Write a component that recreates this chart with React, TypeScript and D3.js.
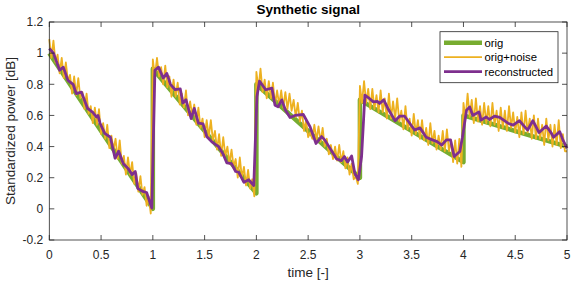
import * as d3 from "d3";

// axis ticks
const xTicks = [0, 0.5, 1, 1.5, 2, 2.5, 3, 3.5, 4, 4.5, 5];
const yTicks = [-0.2, 0, 0.2, 0.4, 0.6, 0.8, 1, 1.2];

// original sawtooth, breakpoints [time, value]
const origPoints: [number, number][] = [
  [0, 1], [1, 0], [1, 0.9], [2, 0.1], [2, 0.8], [3, 0.2], [3, 0.7], [4, 0.3], [4, 0.6], [5, 0.4],
];

// orig+noise, sampled every 0.02 inside each unit interval
const noisySeg1 = [
  1.09, 0.97, 1.08, 0.94, 0.99, 0.87, 0.97, 0.84, 0.94, 0.82,
  0.86, 0.74, 0.85, 0.73, 0.84, 0.71, 0.75, 0.64, 0.74, 0.61,
  0.66, 0.55, 0.65, 0.54, 0.64, 0.48, 0.55, 0.45, 0.54, 0.39,
  0.47, 0.38, 0.45, 0.32, 0.44, 0.29, 0.34, 0.22, 0.33, 0.22,
  0.3, 0.16, 0.23, 0.11, 0.21, 0.09, 0.14, 0.02, 0.08, -0.03,
];
const noisySeg2 = [
  0.96, 0.85, 0.97, 0.85, 0.91, 0.8, 0.92, 0.78, 0.85, 0.72,
  0.83, 0.72, 0.81, 0.67, 0.74, 0.65, 0.76, 0.6, 0.69, 0.6,
  0.67, 0.54, 0.65, 0.52, 0.58, 0.46, 0.57, 0.46, 0.57, 0.44,
  0.5, 0.38, 0.48, 0.34, 0.46, 0.34, 0.4, 0.29, 0.38, 0.27,
  0.32, 0.2, 0.33, 0.2, 0.27, 0.15, 0.25, 0.13, 0.19, 0.08,
];
const noisySeg3 = [
  0.88, 0.77, 0.9, 0.75, 0.83, 0.71, 0.82, 0.71, 0.81, 0.67,
  0.76, 0.67, 0.76, 0.65, 0.75, 0.64, 0.74, 0.63, 0.7, 0.59,
  0.68, 0.56, 0.63, 0.5, 0.57, 0.46, 0.49, 0.45, 0.54, 0.44,
  0.53, 0.43, 0.52, 0.4, 0.45, 0.35, 0.41, 0.32, 0.4, 0.31,
  0.41, 0.3, 0.37, 0.26, 0.33, 0.22, 0.29, 0.19, 0.21, 0.16,
];
const noisySeg4 = [
  0.79, 0.68, 0.82, 0.68, 0.77, 0.64, 0.77, 0.64, 0.73, 0.62,
  0.76, 0.62, 0.71, 0.58, 0.74, 0.58, 0.69, 0.58, 0.71, 0.56,
  0.63, 0.51, 0.66, 0.51, 0.58, 0.47, 0.61, 0.48, 0.57, 0.45,
  0.57, 0.44, 0.52, 0.41, 0.55, 0.42, 0.5, 0.38, 0.47, 0.38,
  0.5, 0.37, 0.51, 0.37, 0.44, 0.3, 0.44, 0.29, 0.45, 0.27,
];
const noisySeg5 = [
  0.68, 0.58, 0.74, 0.59, 0.7, 0.55, 0.71, 0.56, 0.66, 0.54,
  0.68, 0.55, 0.66, 0.53, 0.68, 0.54, 0.63, 0.5, 0.65, 0.52,
  0.63, 0.5, 0.66, 0.52, 0.62, 0.49, 0.59, 0.46, 0.62, 0.48,
  0.63, 0.49, 0.58, 0.45, 0.6, 0.45, 0.58, 0.45, 0.54, 0.41,
  0.58, 0.44, 0.54, 0.4, 0.54, 0.41, 0.57, 0.39, 0.48, 0.37,
  0.37,
];

// reconstructed signal
const reconTime = [
  0, 0.04, 0.1, 0.135, 0.18, 0.23, 0.26, 0.31, 0.37, 0.42, 0.455, 0.47, 0.49, 0.535, 0.59,
  0.635, 0.67, 0.715, 0.76, 0.8, 0.83, 0.855, 0.91, 0.94, 0.99,
  1.02, 1.055, 1.1, 1.135, 1.17, 1.215, 1.265, 1.29, 1.32, 1.37, 1.4, 1.44, 1.485, 1.52,
  1.57, 1.635, 1.68, 1.715, 1.76, 1.8, 1.83, 1.88, 1.925, 1.975, 2.005,
  2.03, 2.09, 2.15, 2.18, 2.21, 2.245, 2.28, 2.325, 2.373, 2.453, 2.518, 2.576, 2.63,
  2.66, 2.71, 2.775, 2.82, 2.85, 2.88, 2.92, 2.95, 2.985, 3.016,
  3.048, 3.08, 3.13, 3.167, 3.19, 3.23, 3.27, 3.34, 3.385, 3.43, 3.5, 3.53, 3.58, 3.64,
  3.7, 3.745, 3.79, 3.836, 3.875, 3.91, 3.965, 3.99, 4.03, 4.06,
  4.09, 4.15, 4.17, 4.22, 4.25, 4.3, 4.35, 4.43, 4.48, 4.54, 4.59, 4.62, 4.67, 4.73,
  4.8, 4.85, 4.87, 4.93, 4.96, 5,
];
const reconValue = [
  1.03, 1.0, 0.89, 0.91, 0.825, 0.8, 0.74, 0.75, 0.645, 0.62, 0.59, 0.6, 0.55, 0.485, 0.46,
  0.325, 0.37, 0.29, 0.26, 0.22, 0.24, 0.13, 0.11, 0.105, 0.005,
  0.89, 0.91, 0.84, 0.87, 0.8, 0.765, 0.77, 0.68, 0.7, 0.58, 0.645, 0.55, 0.545, 0.465,
  0.43, 0.4, 0.35, 0.295, 0.29, 0.24, 0.235, 0.17, 0.187, 0.15, 0.72,
  0.82, 0.765, 0.775, 0.665, 0.655, 0.7, 0.635, 0.587, 0.6, 0.606, 0.528, 0.42, 0.464,
  0.443, 0.39, 0.32, 0.31, 0.336, 0.3, 0.34, 0.23, 0.187, 0.336,
  0.73, 0.715, 0.687, 0.69, 0.677, 0.7, 0.645, 0.566, 0.596, 0.596, 0.532, 0.506, 0.52, 0.46,
  0.443, 0.432, 0.41, 0.443, 0.443, 0.336, 0.368, 0.46, 0.634, 0.655,
  0.6, 0.623, 0.57, 0.59, 0.574, 0.596, 0.587, 0.55, 0.538, 0.566, 0.528, 0.506, 0.566, 0.49,
  0.532, 0.485, 0.46, 0.496, 0.443, 0.39,
];

const legendLabels = ["orig", "orig+noise", "reconstructed"];

const GREEN = "#77AC30";
const ORANGE = "#EDB120";
const PURPLE = "#7E2F8E";
const AXIS = "#262626";
const FONT = "'Liberation Sans', Arial, Helvetica, sans-serif";

const W = 578;
const H = 284;
const plot = { left: 49.3, right: 567, top: 22, bottom: 240 };

const fmt = (v: number) => String(+v.toFixed(1));

export default function App() {
  const x = d3.scaleLinear().domain([0, 5]).range([plot.left, plot.right]);
  const y = d3.scaleLinear().domain([-0.2, 1.2]).range([plot.bottom, plot.top]);
  const line = d3
    .line<[number, number]>()
    .x((d) => x(d[0]))
    .y((d) => y(d[1]));

  const noisyPoints: [number, number][] = [];
  [noisySeg1, noisySeg2, noisySeg3, noisySeg4, noisySeg5].forEach((seg, k) => {
    seg.forEach((v, i) => noisyPoints.push([k + i * 0.02, v]));
  });
  const reconPoints: [number, number][] = reconTime.map((t, i) => [t, reconValue[i]]);

  const tick = 5;
  const legend = { x: 440, y: 31.7, w: 118, h: 51 };
  const legendStyles = [
    { color: GREEN, width: 4.5 },
    { color: ORANGE, width: 1.8 },
    { color: PURPLE, width: 2.8 },
  ];

  return (
    <svg
      width={W}
      height={H}
      style={{ position: "absolute", left: 0, top: 0, background: "#fff" }}
      fontFamily={FONT}
    >
      <rect x={0} y={0} width={W} height={H} fill="#fff" />

      {/* data lines */}
      <path d={line(origPoints) || ""} fill="none" stroke={GREEN} strokeWidth={4.5} strokeLinejoin="round" />
      <path d={line(noisyPoints) || ""} fill="none" stroke={ORANGE} strokeWidth={1.8} strokeLinejoin="round" />
      <path d={line(reconPoints) || ""} fill="none" stroke={PURPLE} strokeWidth={2.8} strokeLinejoin="round" />

      {/* axes box */}
      <rect
        x={plot.left}
        y={plot.top}
        width={plot.right - plot.left}
        height={plot.bottom - plot.top}
        fill="none"
        stroke={AXIS}
        strokeWidth={0.8}
      />

      {/* x ticks */}
      {xTicks.map((t) => (
        <g key={"x" + t}>
          <line x1={x(t)} x2={x(t)} y1={plot.bottom} y2={plot.bottom - tick} stroke={AXIS} strokeWidth={0.8} />
          <line x1={x(t)} x2={x(t)} y1={plot.top} y2={plot.top + tick} stroke={AXIS} strokeWidth={0.8} />
          <text x={x(t)} y={plot.bottom + 18.7} textAnchor="middle" fontSize={12} fill={AXIS}>
            {fmt(t)}
          </text>
        </g>
      ))}

      {/* y ticks */}
      {yTicks.map((t) => (
        <g key={"y" + t}>
          <line x1={plot.left} x2={plot.left + tick} y1={y(t)} y2={y(t)} stroke={AXIS} strokeWidth={0.8} />
          <line x1={plot.right} x2={plot.right - tick} y1={y(t)} y2={y(t)} stroke={AXIS} strokeWidth={0.8} />
          <text x={plot.left - 6} y={y(t) + 4.3} textAnchor="end" fontSize={12} fill={AXIS}>
            {fmt(t)}
          </text>
        </g>
      ))}

      {/* labels */}
      <text x={(plot.left + plot.right) / 2} y={14} textAnchor="middle" fontSize={13.5} fontWeight="bold" fill="#000">
        Synthetic signal
      </text>
      <text x={(plot.left + plot.right) / 2} y={277} textAnchor="middle" fontSize={13.5} fill={AXIS}>
        time [-]
      </text>
      <text
        transform={`translate(15,${(plot.top + plot.bottom) / 2}) rotate(-90)`}
        textAnchor="middle"
        fontSize={13.5}
        fill={AXIS}
      >
        Standardized power [dB]
      </text>

      {/* legend */}
      <rect x={legend.x} y={legend.y} width={legend.w} height={legend.h} fill="#fff" stroke={AXIS} strokeWidth={0.8} />
      {legendLabels.map((label, i) => {
        const ly = legend.y + 11 + i * 14.5;
        return (
          <g key={label}>
            <line x1={legend.x + 4} x2={legend.x + 42} y1={ly} y2={ly} stroke={legendStyles[i].color} strokeWidth={legendStyles[i].width} />
            <text x={legend.x + 44.5} y={ly + 4} fontSize={11.3} fill="#000">
              {label}
            </text>
          </g>
        );
      })}
    </svg>
  );
}
